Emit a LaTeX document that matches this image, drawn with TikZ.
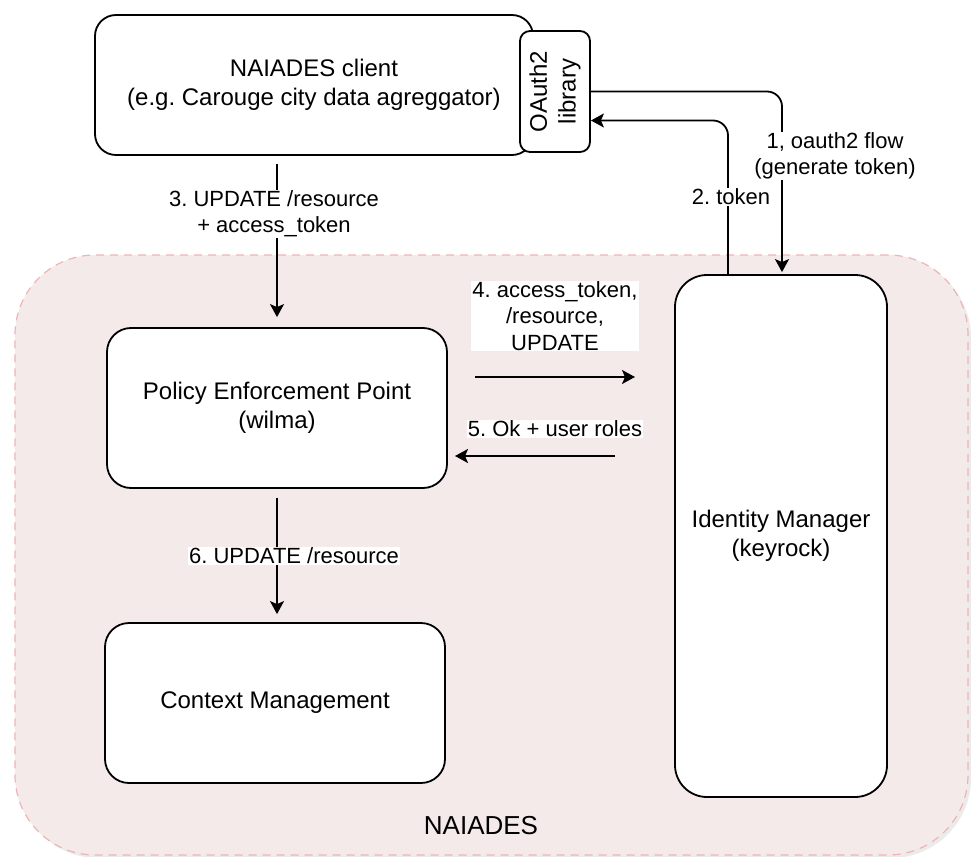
\documentclass[tikz,border=0pt]{standalone}
\usepackage{fontspec}
\setmainfont{Liberation Sans}
\usetikzlibrary{arrows.meta,calc}
\frenchspacing
\definecolor{regfill}{RGB}{244,234,234}
\definecolor{regline}{RGB}{238,180,180}
\tikzset{
  mainfont/.style={font=\fontsize{24}{28.8}\selectfont},
  lblfont/.style={font=\fontsize{22}{26.4}\selectfont},
  box/.style={draw=black, fill=white, line width=1.8pt, rectangle, align=center, mainfont, inner sep=0pt},
  lbl/.style={fill=white, align=center, lblfont, inner sep=1pt},
  arr/.style={line width=1.8pt, -{Stealth[length=13pt,width=14pt,inset=3pt]}},
  region/.style={rectangle, fill=regfill, draw=regline, dashed, dash pattern=on 8pt off 6pt, line width=1.2pt, rounded corners=80pt, minimum width=953pt, minimum height=600pt, inner sep=0pt}
}
\begin{document}
\frenchspacing
\begin{tikzpicture}[x=1pt,y=-1pt]
\useasboundingbox (0,0) rectangle (971,856);
% region with shadow
\node[rectangle, fill=black, opacity=0.08, rounded corners=80pt, minimum width=953pt, minimum height=600pt, inner sep=0pt] (shadow) at (494.5,558) {};
\node[region] (naiades) at (491.5,555) {};
\node[font=\fontsize{26}{30}\selectfont] (nlabel) at (481,826) {NAIADES};

% boxes
\node[box, minimum width=438pt, minimum height=140pt, rounded corners=21pt] (client) at (314,85) {NAIADES client\\(e.g. Carouge city data agreggator)};
\node[box, minimum width=70pt, minimum height=121pt, rounded corners=10pt] (lib) at (555,91.5) {};
\node[mainfont, rotate=90, align=center, inner sep=0pt] (libtext) at (lib.center) {OAuth2\\library};
\node[box, minimum width=340pt, minimum height=160pt, rounded corners=24pt] (pep) at (277,408) {Policy Enforcement Point\\(wilma)};
\node[box, minimum width=340pt, minimum height=160pt, rounded corners=24pt] (ctx) at (275,703) {Context Management};
\node[box, minimum width=212pt, minimum height=522pt, rounded corners=32pt] (idm) at (781,536) {Identity Manager\\(keyrock)};

% 1: oauth2 flow
\draw[arr, rounded corners=15pt] (lib.east) -| ($(idm.north)+(1,-2)$);
\node[lbl] (l1) at (835,156) {1, oauth2 flow\\(generate token)};
% 2: token
\draw[arr, rounded corners=15pt] ($(idm.north)+(-53,0)$) |- ($(lib.east)+(0,29)$);
\node[lbl] (l2) at (731,197) {2. token};
% 3
\draw[arr, shorten <=8pt, shorten >=10pt] (pep.north |- client.south) -- (pep.north);
\node[lbl] (l3) at (274,214) {3. UPDATE /resource\\+ access\_token};
% 4
\coordinate (a4s) at (475,377);
\coordinate (a4e) at (635,377);
\draw[arr] (a4s) -- (a4e);
\node[lbl] (l4) at (555,316) {4. access\_token,\\/resource,\\UPDATE};
% 5
\coordinate (a5s) at (615,456);
\coordinate (a5e) at (455,456);
\draw[arr] (a5s) -- (a5e);
\node[lbl] (l5) at (555,429) {5. Ok + user roles};
% 6
\draw[arr, shorten <=9pt, shorten >=8pt] (pep.south) -- (pep.south |- ctx.north);
\node[lbl] (l6) at (294,556) {6. UPDATE /resource};
\end{tikzpicture}
\end{document}
